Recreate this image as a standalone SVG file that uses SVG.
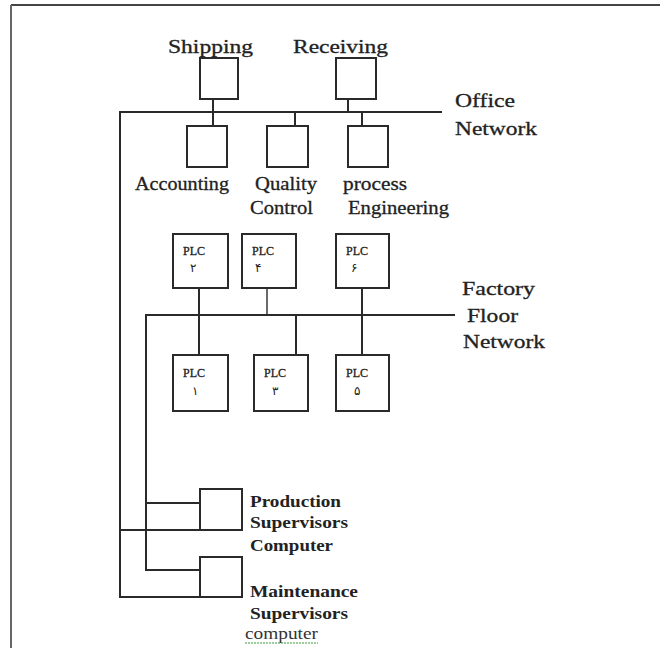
<svg xmlns="http://www.w3.org/2000/svg" width="660" height="648" viewBox="0 0 660 648">
<style>
.bx{fill:#fff;stroke:#2a2a2a;stroke-width:2}
.ln{fill:none;stroke:#2a2a2a;stroke-width:2}
.th{fill:none;stroke:#2a2a2a;stroke-width:1.4}
.t{font-family:"Liberation Serif","Times New Roman",serif;font-size:19px;fill:#222;stroke:#222;stroke-width:0.3}
.p{font-family:"Liberation Serif","Times New Roman",serif;font-size:12px;fill:#222;stroke:#222;stroke-width:0.3}
.d{font-family:"Noto Sans","DejaVu Sans",sans-serif;font-size:12px;fill:#222}
.b{font-family:"Liberation Serif","Times New Roman",serif;font-size:17px;fill:#222;font-weight:bold}
</style>
<rect width="660" height="648" fill="#fff"/>
<g id="frame">
<line x1="11" y1="5" x2="660" y2="5" stroke="#444" stroke-width="2"/>
<line x1="11" y1="5" x2="11" y2="648" stroke="#666" stroke-width="2"/>
</g>
<g id="connectors">
<polyline class="ln" points="442,112 120,112 120,597 200,597"/>
<line class="ln" x1="120" y1="530" x2="200" y2="530"/>
<line class="ln" x1="213" y1="99" x2="213" y2="126"/>
<line class="ln" x1="348" y1="99" x2="348" y2="112"/>
<line class="ln" x1="295" y1="112" x2="295" y2="126"/>
<line class="ln" x1="362" y1="112" x2="362" y2="126"/>
<polyline class="ln" points="455,315 146,315 146,570 200,570"/>
<line class="ln" x1="146" y1="503" x2="200" y2="503"/>
<line class="ln" x1="199" y1="288" x2="199" y2="355"/>
<line class="th" x1="267" y1="288" x2="267" y2="315"/>
<line class="ln" x1="296" y1="315" x2="296" y2="355"/>
<line class="ln" x1="362" y1="288" x2="362" y2="355"/>
</g>
<g id="shipping"><rect class="bx" x="200" y="58" width="38" height="41"/><text class="t" x="168" y="53" textLength="85" lengthAdjust="spacingAndGlyphs">Shipping</text></g>
<g id="receiving"><rect class="bx" x="336" y="58" width="40" height="41"/><text class="t" x="293" y="53" textLength="95" lengthAdjust="spacingAndGlyphs">Receiving</text></g>
<g id="office-label"><text class="t" x="455" y="107" textLength="60" lengthAdjust="spacingAndGlyphs">Office</text><text class="t" x="455" y="135" textLength="82" lengthAdjust="spacingAndGlyphs">Network</text></g>
<g id="accounting"><rect class="bx" x="187" y="126" width="40" height="41"/><text class="t" x="135" y="190" textLength="94" lengthAdjust="spacingAndGlyphs">Accounting</text></g>
<g id="quality"><rect class="bx" x="267" y="126" width="41" height="41"/><text class="t" x="255" y="190" textLength="62" lengthAdjust="spacingAndGlyphs">Quality</text><text class="t" x="250" y="214" textLength="63" lengthAdjust="spacingAndGlyphs">Control</text></g>
<g id="process"><rect class="bx" x="348" y="126" width="40" height="41"/><text class="t" x="343" y="190" textLength="64" lengthAdjust="spacingAndGlyphs">process</text><text class="t" x="348" y="214" textLength="101" lengthAdjust="spacingAndGlyphs">Engineering</text></g>
<g id="plc2"><rect class="bx" x="173" y="234" width="55" height="54"/><text class="p" x="183" y="255">PLC</text><text class="d" x="190" y="272">۲</text></g>
<g id="plc4"><rect class="bx" x="242" y="234" width="54" height="54"/><text class="p" x="252" y="255">PLC</text><text class="d" x="255" y="272">۴</text></g>
<g id="plc6"><rect class="bx" x="336" y="234" width="53" height="54"/><text class="p" x="346" y="255">PLC</text><text class="d" x="351" y="272">۶</text></g>
<g id="factory-label"><text class="t" x="462" y="295" textLength="73" lengthAdjust="spacingAndGlyphs">Factory</text><text class="t" x="467" y="322" textLength="51" lengthAdjust="spacingAndGlyphs">Floor</text><text class="t" x="463" y="348" textLength="82" lengthAdjust="spacingAndGlyphs">Network</text></g>
<g id="plc1"><rect class="bx" x="173" y="355" width="55" height="56"/><text class="p" x="183" y="377">PLC</text><text class="d" x="192" y="395">۱</text></g>
<g id="plc3"><rect class="bx" x="254" y="355" width="54" height="56"/><text class="p" x="264" y="377">PLC</text><text class="d" x="272" y="395">۳</text></g>
<g id="plc5"><rect class="bx" x="336" y="355" width="53" height="56"/><text class="p" x="346" y="377">PLC</text><text class="d" x="354" y="395">۵</text></g>
<g id="production"><rect class="bx" x="200" y="489" width="42" height="41"/><text class="b" x="250" y="507" textLength="91" lengthAdjust="spacingAndGlyphs">Production</text><text class="b" x="250" y="528" textLength="98" lengthAdjust="spacingAndGlyphs">Supervisors</text><text class="b" x="250" y="551" textLength="83" lengthAdjust="spacingAndGlyphs">Computer</text></g>
<g id="maintenance"><rect class="bx" x="200" y="557" width="42" height="40"/><text class="b" x="250" y="597" textLength="108" lengthAdjust="spacingAndGlyphs">Maintenance</text><text class="b" x="250" y="619" textLength="98" lengthAdjust="spacingAndGlyphs">Supervisors</text><text class="t" x="245" y="639" textLength="73" lengthAdjust="spacingAndGlyphs" style="font-size:17px;fill:#333;stroke:none">computer</text><line x1="245" y1="643" x2="318" y2="643" stroke="#7cbf7c" stroke-width="1.5" stroke-dasharray="2,1"/></g>
</svg>
